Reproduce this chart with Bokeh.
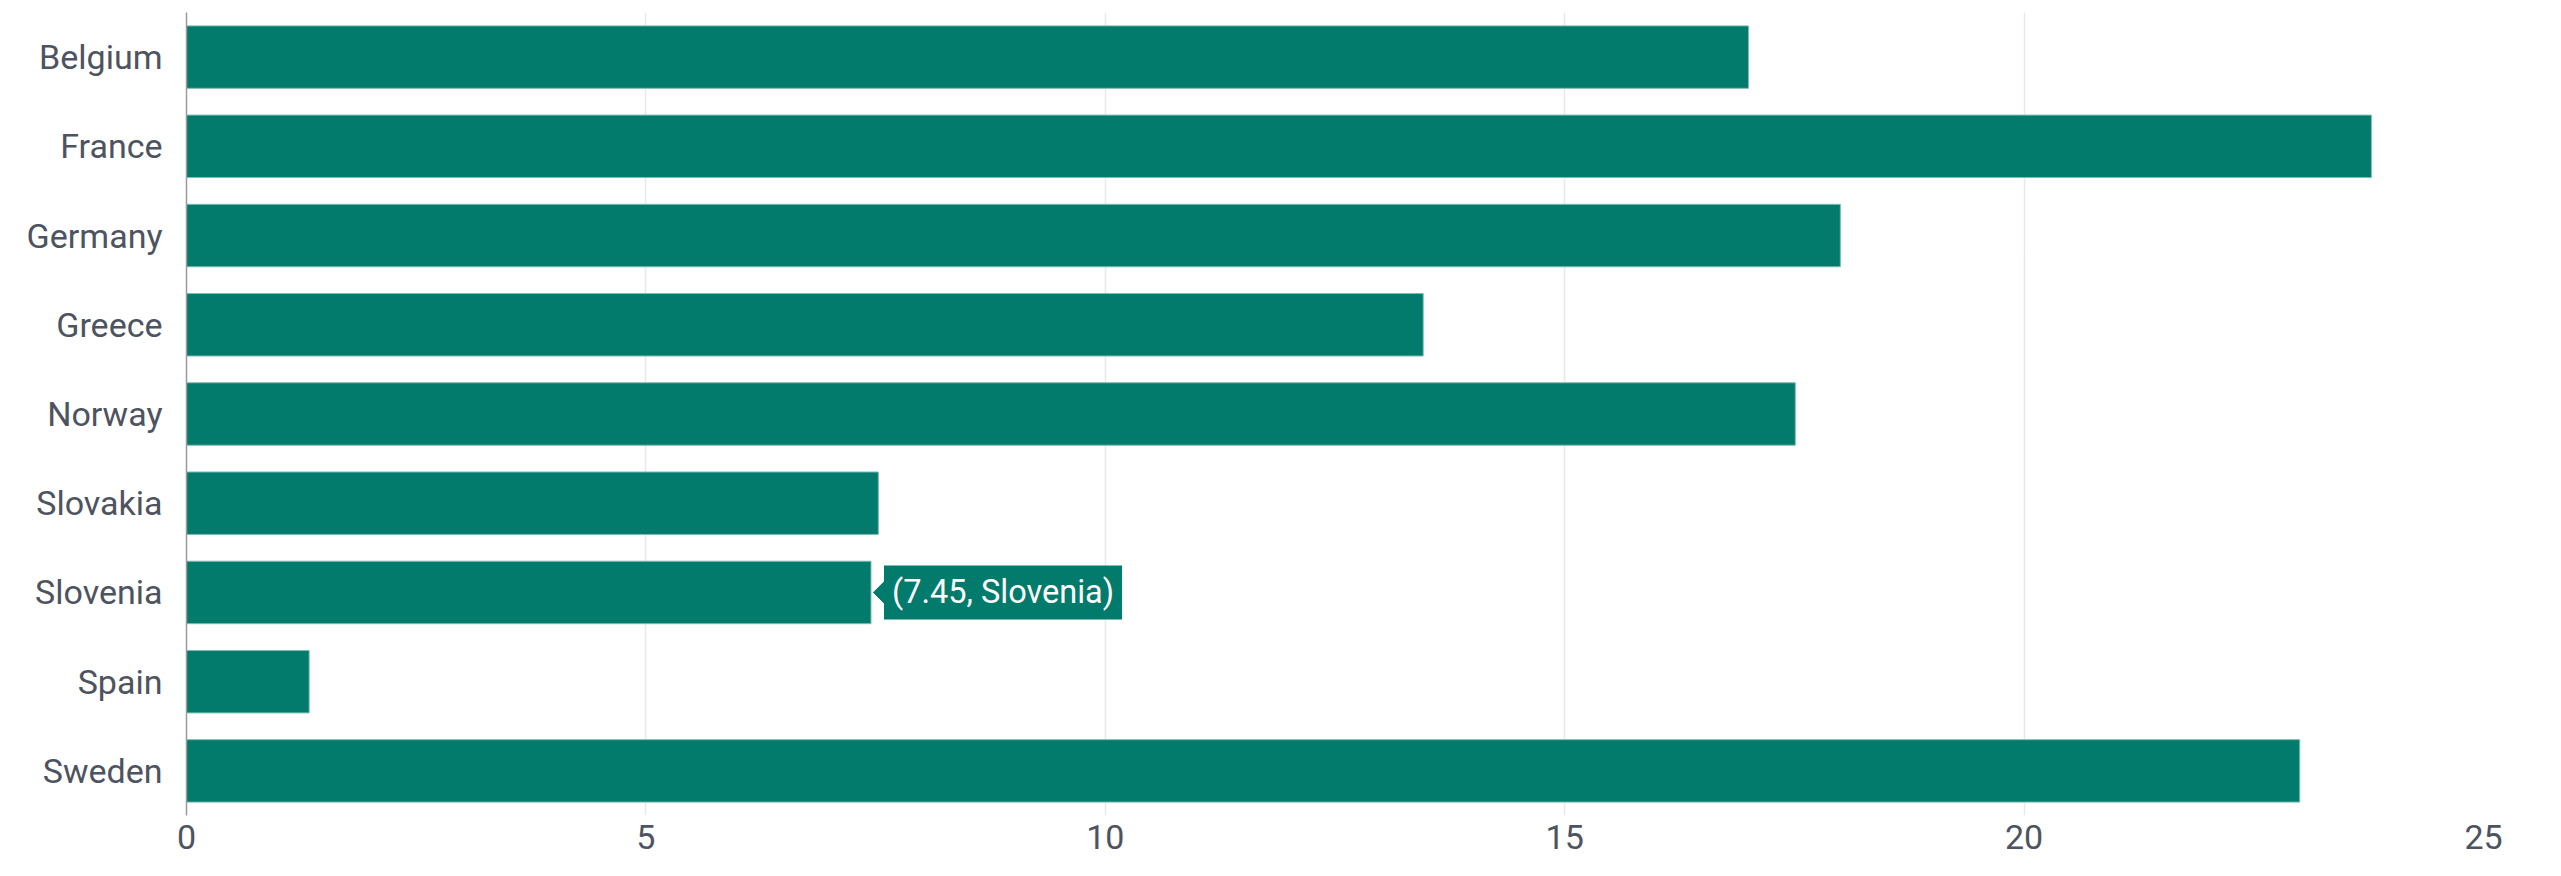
from bokeh.plotting import figure
from bokeh.models import Range1d, FactorRange, Label, ColumnDataSource
from bokeh.embed import file_html
from bokeh.resources import INLINE

countries = ["Belgium", "France", "Germany", "Greece", "Norway",
             "Slovakia", "Slovenia", "Spain", "Sweden"]
values = [17.0, 23.78, 18.0, 13.46, 17.51, 7.53, 7.45, 1.335, 23.0]
x_ticks = [0, 5, 10, 15, 20, 25]
tip_country = "Slovenia"

BAR = "#027a6c"
TXT = "#4d5360"
FONT = "Roboto"

p = figure(width=2545, height=867, output_backend="svg", toolbar_location=None,
           x_range=Range1d(0, 25), y_range=FactorRange(*reversed(countries)),
           min_border_left=186, min_border_right=62, min_border_top=12,
           min_border_bottom=52)
p.outline_line_color = None
p.background_fill_color = "white"

src = ColumnDataSource(dict(c=countries, v=values))
p.hbar(y="c", right="v", left=0, height=0.7, source=src,
       fill_color=BAR, line_color="#7dbdb3", line_width=1)

# grid
p.ygrid.grid_line_color = None
p.xgrid.grid_line_color = "#e8e8e8"
p.xgrid.grid_line_width = 1.5
p.xaxis.ticker = x_ticks

# x axis
p.xaxis.axis_line_color = None
p.xaxis.major_tick_line_color = None
p.xaxis.minor_tick_line_color = None
p.xaxis.major_label_standoff = 3
p.xaxis.major_label_text_font = FONT
p.xaxis.major_label_text_font_size = "34px"
p.xaxis.major_label_text_color = TXT

# y axis
p.yaxis.axis_line_color = "#9a9a9a"
p.yaxis.axis_line_width = 1.5
p.yaxis.major_tick_line_color = None
p.yaxis.minor_tick_line_color = None
p.yaxis.major_label_standoff = 18
p.yaxis.major_label_text_font = FONT
p.yaxis.major_label_text_font_size = "34px"
p.yaxis.major_label_text_color = TXT

# tooltip
i = countries.index(tip_country)
v = values[i]
px_per_unit = 2297.0 / 25.0
tip_x0 = v + 2.4 / px_per_unit
tip_x1 = v + 14.0 / px_per_unit
tip_dy = 0.129
p.patch(x=[tip_x0, tip_x1, tip_x1],
        y=[(tip_country, 0.0), (tip_country, tip_dy), (tip_country, -tip_dy)],
        fill_color=BAR, line_color=BAR)
lab = Label(x=v, y=len(countries) - 1 - i + 0.5, x_offset=13,
            text=f"({v}, {tip_country})",
            text_font=FONT, text_font_size="32.5px", text_color="white",
            text_baseline="middle", text_align="left",
            background_fill_color=BAR, padding=8)
p.add_layout(lab)

open("out.html", "w").write(file_html(p, INLINE))
